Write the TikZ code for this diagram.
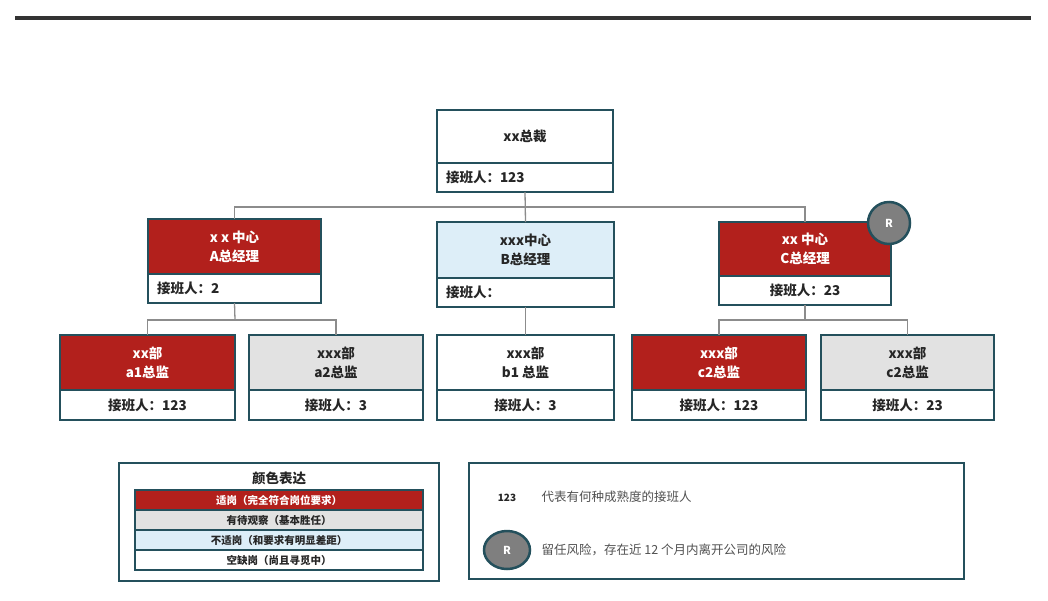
\documentclass[tikz,border=0pt]{standalone}
\usepackage{fontspec}
\usetikzlibrary{shapes.geometric}
\setmainfont{Noto Sans CJK SC}
\definecolor{brd}{HTML}{24505C}
\definecolor{redf}{HTML}{B2201C}
\definecolor{greyf}{HTML}{E2E2E2}
\definecolor{bluef}{HTML}{DDEEF8}
\definecolor{conn}{HTML}{8C8C8C}
\definecolor{circf}{HTML}{7F7F7F}
\definecolor{txt}{HTML}{262626}
\begin{document}
\begin{tikzpicture}[x=1pt,y=-1pt,
  part/.style={rectangle, inner sep=0pt, outer sep=0pt, draw=brd, line width=1.5pt, font=\bfseries\fontsize{13.5}{19}\selectfont, text=txt, align=center},
  redpart/.style={part, fill=redf, text=white},
  greypart/.style={part, fill=greyf},
  bluepart/.style={part, fill=bluef},
  whitepart/.style={part, fill=white},
  frame/.style={draw=brd, line width=2.2pt},
  link/.style={draw=conn, line width=1.3pt},
  rcirc/.style={circle, fill=circf, draw=brd, line width=2.5pt, text=white, font=\bfseries\fontsize{11}{12}\selectfont, inner sep=0pt},
  legrow/.style={rectangle, inner sep=0pt, outer sep=0pt, draw=brd, line width=1.5pt, minimum width=288, minimum height=20, font=\bfseries\fontsize{10.5}{12}\selectfont, text=txt},
  note/.style={font=\fontsize{12.5}{14}\selectfont, text=txt!80, anchor=west}
]
\useasboundingbox (0,0) rectangle (1048,600);
\fill[white] (0,0) rectangle (1048,600);
\draw[line width=4.5pt, draw=black!80] (15,18) -- (1031,18);

% top box
\node[whitepart, minimum width=176, minimum height=53, anchor=north west] (topT) at (437,110) {xx总裁};
\node[whitepart, minimum width=176, minimum height=29, anchor=north, text width=158, align=left] (topB) at (topT.south) {接班人：123};
\draw[frame] (topT.north west) rectangle (topB.south east);

% level 2
\node[redpart, minimum width=173, minimum height=55, anchor=north west] (AT) at (148,219) {x x 中心\\A总经理};
\node[whitepart, minimum width=173, minimum height=29, anchor=north, text width=155, align=left] (AB) at (AT.south) {接班人：2};
\draw[frame] (AT.north west) rectangle (AB.south east);

\node[bluepart, minimum width=177, minimum height=56, anchor=north west] (BT) at (437,222) {xxx中心\\B总经理};
\node[whitepart, minimum width=177, minimum height=29, anchor=north, text width=159, align=left] (BB) at (BT.south) {接班人：};
\draw[frame] (BT.north west) rectangle (BB.south east);

\node[redpart, minimum width=172, minimum height=54, anchor=north west] (CT) at (719,222) {xx 中心\\C总经理};
\node[whitepart, minimum width=172, minimum height=29, anchor=north] (CB) at (CT.south) {接班人：23};
\draw[frame] (CT.north west) rectangle (CB.south east);

% level 3
\node[redpart, minimum width=175, minimum height=55, anchor=north west] (a1T) at (60,335) {xx部\\a1总监};
\node[whitepart, minimum width=175, minimum height=30, anchor=north] (a1B) at (a1T.south) {接班人：123};
\draw[frame] (a1T.north west) rectangle (a1B.south east);

\node[greypart, minimum width=174, minimum height=55, anchor=north west] (a2T) at (249,335) {xxx部\\a2总监};
\node[whitepart, minimum width=174, minimum height=30, anchor=north] (a2B) at (a2T.south) {接班人：3};
\draw[frame] (a2T.north west) rectangle (a2B.south east);

\node[whitepart, minimum width=177, minimum height=55, anchor=north west] (b1T) at (437,335) {xxx部\\b1 总监};
\node[whitepart, minimum width=177, minimum height=30, anchor=north] (b1B) at (b1T.south) {接班人：3};
\draw[frame] (b1T.north west) rectangle (b1B.south east);

\node[redpart, minimum width=174, minimum height=55, anchor=north west] (c1T) at (632,335) {xxx部\\c2总监};
\node[whitepart, minimum width=174, minimum height=30, anchor=north] (c1B) at (c1T.south) {接班人：123};
\draw[frame] (c1T.north west) rectangle (c1B.south east);

\node[greypart, minimum width=173, minimum height=55, anchor=north west] (c2T) at (821,335) {xxx部\\c2总监};
\node[whitepart, minimum width=173, minimum height=30, anchor=north] (c2B) at (c2T.south) {接班人：23};
\draw[frame] (c2T.north west) rectangle (c2B.south east);

% connectors
\coordinate (bus1) at (527,207);
\coordinate (busA) at (235,320);
\coordinate (busC) at (805,320);
\draw[link] (topB.south) -- (BT.north);
\draw[link] (AT.north) |- (bus1) -| (CT.north);
\draw[link] (AB.south) -- (busA);
\draw[link] (a1T.north) |- (busA) -| (a2T.north);
\draw[link] (BB.south) -- (b1T.north);
\draw[link] (CB.south) -- (busC);
\draw[link] (c1T.north) |- (busC) -| (c2T.north);

% R badge
\node[rcirc, minimum size=42] (rC) at (889,223) {R};

% legend left
\node[draw=brd, line width=1.8pt, minimum width=320, minimum height=118, anchor=north west, inner sep=0pt] (legL) at (118,462) {};
\node[font=\bfseries\fontsize{13.5}{15}\selectfont, text=txt] (legT) at (279,478) {颜色表达};
\node[legrow, fill=redf, text=white, anchor=north west] (r1) at (135,490) {适岗（完全符合岗位要求）};
\node[legrow, fill=greyf, anchor=north] (r2) at (r1.south) {有待观察（基本胜任）};
\node[legrow, fill=bluef, anchor=north] (r3) at (r2.south) {不适岗（和要求有明显差距）};
\node[legrow, fill=white, anchor=north] (r4) at (r3.south) {空缺岗（尚且寻觅中）};
\draw[frame] (r1.north west) rectangle (r4.south east);

% legend right
\node[draw=brd, line width=1.8pt, minimum width=495, minimum height=116, anchor=north west, inner sep=0pt] (legR) at (468,462) {};
\node[font=\bfseries\fontsize{10}{12}\selectfont, text=txt] (n123) at (507,498) {123};
\node[note] (t1) at (538,497) {代表有何种成熟度的接班人};
\node[rcirc, ellipse, minimum width=46, minimum height=38] (rL) at (507,550) {R};
\node[note] (t2) at (538,550) {留任风险，存在近 12 个月内离开公司的风险};
\end{tikzpicture}
\end{document}
